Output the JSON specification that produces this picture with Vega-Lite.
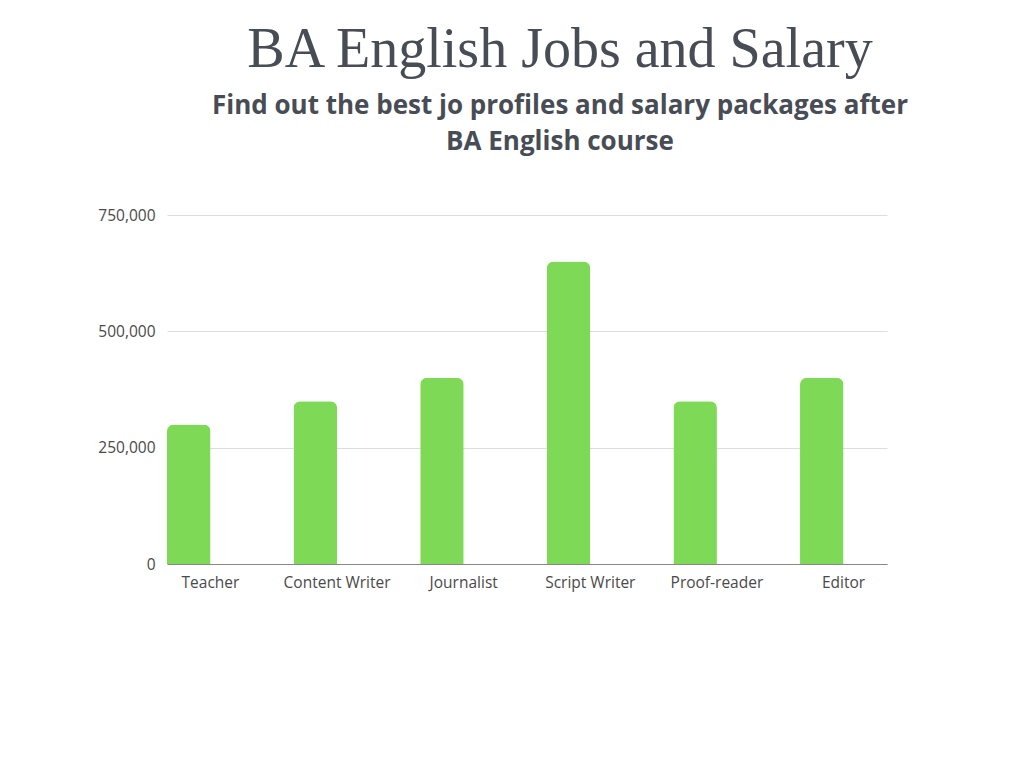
{
  "$schema": "https://vega.github.io/schema/vega-lite/v6.json",
  "autosize": "none",
  "width": 720,
  "height": 349,
  "padding": {"left": 167, "top": 215, "right": 137, "bottom": 204},
  "background": "white",
  "title": {
    "text": "BA English  Jobs and Salary",
    "subtitle": ["Find out the best jo profiles  and salary packages after", "BA English course"],
    "anchor": "middle",
    "frame": "group",
    "dx": 33,
    "offset": 52,
    "font": "Liberation Serif",
    "fontSize": 56,
    "fontWeight": "normal",
    "color": "#474c55",
    "subtitleFont": "Open Sans",
    "subtitleFontSize": 26,
    "subtitleFontWeight": "bold",
    "subtitleColor": "#474c55",
    "subtitleLineHeight": 36,
    "subtitlePadding": 14
  },
  "data": {
    "values": [
      {"job": "Teacher", "salary": 300000, "series": "Salary"},
      {"job": "Content Writer", "salary": 350000, "series": "Salary"},
      {"job": "Journalist", "salary": 400000, "series": "Salary"},
      {"job": "Script Writer", "salary": 650000, "series": "Salary"},
      {"job": "Proof-reader", "salary": 350000, "series": "Salary"},
      {"job": "Editor", "salary": 400000, "series": "Salary"}
    ]
  },
  "mark": {"type": "bar", "color": "#7ED957", "cornerRadiusTopLeft": 7, "cornerRadiusTopRight": 7},
  "encoding": {
    "x": {
      "field": "job",
      "type": "nominal",
      "sort": null,
      "scale": {"paddingInner": 0.313, "paddingOuter": 0},
      "axis": {
        "title": null,
        "labelAngle": 0,
        "labelFont": "Open Sans",
        "labelFontSize": 15.5,
        "labelColor": "#4a4a4a",
        "labelPadding": 11,
        "ticks": false,
        "domainColor": "#888888",
        "domainWidth": 1.2
      }
    },
    "xOffset": {
      "field": "series",
      "type": "nominal",
      "scale": {"domain": ["Salary", "Other"], "paddingInner": 0, "paddingOuter": 0}
    },
    "y": {
      "field": "salary",
      "type": "quantitative",
      "scale": {"domain": [0, 750000]},
      "axis": {
        "title": null,
        "values": [0, 250000, 500000, 750000],
        "format": ",.0f",
        "labelFont": "Open Sans",
        "labelFontSize": 15.5,
        "labelColor": "#4a4a4a",
        "labelPadding": 12,
        "ticks": false,
        "domain": false,
        "gridColor": "#dddddd",
        "gridWidth": 1
      }
    }
  },
  "config": {"view": {"stroke": null}}
}
